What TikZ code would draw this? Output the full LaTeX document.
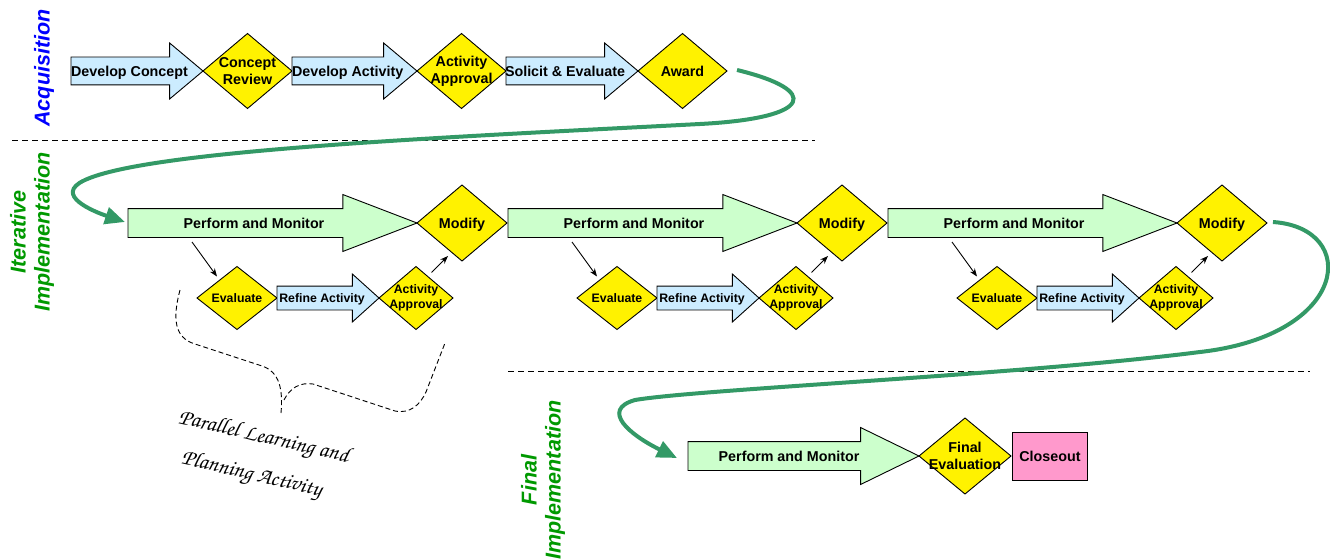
\documentclass[tikz,border=0pt]{standalone}
\usepackage{fontspec}
\setsansfont{Liberation Sans}
\newfontfamily\handfont{texgyrechorus-mediumitalic.otf}
\usetikzlibrary{shapes.geometric,shapes.arrows,arrows.meta,calc}

\definecolor{acqblue}{RGB}{0,0,255}
\definecolor{impgreen}{RGB}{0,153,0}
\definecolor{loopgreen}{RGB}{51,153,102}
\definecolor{stepblue}{RGB}{204,236,255}
\definecolor{stepgreen}{RGB}{204,255,204}
\definecolor{closepink}{RGB}{255,153,204}

\tikzstyle{acqstep} = [single arrow, draw=black, fill=stepblue, line width=0.9pt,
    inner xsep=0pt, inner ysep=13.5pt, outer sep=0pt, minimum width=0pt,
    single arrow head extend=14pt, single arrow tip angle=80, anchor=tail]
\tikzstyle{perfstep} = [single arrow, draw=black, fill=stepgreen, line width=0.9pt,
    inner xsep=0pt, inner ysep=14pt, outer sep=0pt, minimum width=0pt, minimum height=289pt,
    single arrow head extend=14pt, single arrow tip angle=42, anchor=tail]
\tikzstyle{refinestep} = [single arrow, draw=black, fill=stepblue, line width=0.9pt,
    inner xsep=0pt, inner ysep=11.5pt, outer sep=0pt, minimum width=0pt, minimum height=102pt,
    single arrow head extend=12pt, single arrow tip angle=84, anchor=tail]
\tikzstyle{gate} = [diamond, draw=black, fill=yellow, line width=0.9pt,
    inner sep=0pt, outer sep=0pt, anchor=west]
\tikzstyle{bigtext} = [font=\sffamily\bfseries\fontsize{14.3}{17}\selectfont, inner sep=0pt, align=center]
\tikzstyle{smalltext} = [font=\sffamily\bfseries\fontsize{12.3}{14.7}\selectfont, inner sep=0pt, align=center]
\tikzstyle{steplabel} = [bigtext, text height=10.2pt, text depth=0pt]
\tikzstyle{smallsteplabel} = [smalltext, text height=8.8pt, text depth=0pt]
\tikzstyle{sidelabel} = [rotate=90, align=center, inner sep=0pt,
    font=\sffamily\bfseries\itshape\fontsize{21.5}{24}\selectfont]
\tikzstyle{scribble} = [font=\handfont\fontsize{22.5}{39}\selectfont, align=left, inner sep=0pt]
\tikzstyle{sepline} = [dash pattern=on 6pt off 4pt, line width=0.9pt]
\tikzstyle{loopback} = [draw=loopgreen, line width=4pt, -{Triangle[length=20pt,width=17pt]}]
\tikzstyle{flow} = [-{Stealth[length=8pt,width=6pt]}, line width=0.9pt]

\begin{document}
\begin{tikzpicture}[x=1pt, y=-1pt]
    \useasboundingbox (0,0) rectangle (1330,559);

    % side titles and separators
    \node[sidelabel, text=acqblue] (acq) at (44,68) {Acquisition};
    \node[sidelabel, text=impgreen] (iter) at (32,232) {Iterative\\Implementation};
    \node[sidelabel, text=impgreen] (fin) at (543,480) {Final\\Implementation};
    \draw[sepline] (12,140) -- (815,140);
    \draw[sepline] (508,371) -- (1310,371);

    % acquisition
    \node[acqstep, minimum height=132pt] (dc) at (71,71) {};
    \node[steplabel] (dct) at ([xshift=58.5pt]dc.tail) {Develop Concept};
    \node[gate, minimum width=89pt, minimum height=75pt,
        label={[bigtext]center:Concept\\Review}] (cr) at (dc.tip) {};
    \node[acqstep, minimum height=125pt] (da) at (cr.east) {};
    \node[steplabel] (dat) at ([xshift=55.7pt]da.tail) {Develop Activity};
    \node[gate, minimum width=89pt, minimum height=75pt,
        label={[bigtext]center:Activity\\Approval}] (aa) at (da.tip) {};
    \node[acqstep, minimum height=132pt] (se) at (aa.east) {};
    \node[steplabel] (set) at ([xshift=59pt]se.tail) {Solicit \& Evaluate};
    \node[gate, minimum width=89pt, minimum height=75pt,
        label={[steplabel]center:Award}] (aw) at (se.tip) {};

    % iterative implementation
    \foreach \i/\x in {1/128, 2/508, 3/888} {
        \node[perfstep] (pm\i) at (\x,223) {};
        \node[steplabel] (pmt\i) at ([xshift=126pt]pm\i.tail) {Perform and Monitor};
        \node[gate, minimum width=90pt, minimum height=76pt,
            label={[steplabel]center:Modify}] (md\i) at (pm\i.tip) {};
        \node[gate, anchor=center, minimum width=80pt, minimum height=63pt,
            label={[smallsteplabel]center:Evaluate}] (ev\i) at ([xshift=109pt, yshift=-75pt]pm\i.tail) {};
        \node[refinestep] (rf\i) at (ev\i.east) {};
        \node[smallsteplabel] (rft\i) at ([xshift=45pt]rf\i.tail) {Refine Activity};
        \node[gate, minimum width=74pt, minimum height=63pt,
            label={[smalltext]center:Activity\\Approval}] (ap\i) at (rf\i.tip) {};
        \draw[flow] ($(pm\i.tail)+(64,19)$) -- ($(ev\i.north)+(-20,10)$);
        \draw[flow] ($(ap\i.north)+(15.5,6)$) -- ($(md\i.south)+(-14,-5)$);
    }

    % final implementation
    \node[perfstep, minimum height=231pt, single arrow tip angle=52] (pmf) at (688,456) {};
    \node[steplabel] (pmft) at ([xshift=101pt]pmf.tail) {Perform and Monitor};
    \node[gate, minimum width=92pt, minimum height=76pt,
        label={[bigtext]center:Final\\Evaluation}] (fe) at (pmf.tip) {};
    \node[steplabel, draw=black, fill=closepink, line width=0.9pt, anchor=west,
        minimum width=75pt, minimum height=48pt] (co) at ([xshift=1pt]fe.east) {Closeout};

    % hand-offs between phases
    \draw[loopback] ($(aw.east)+(10,-1)$) .. controls (820,90) and (815,118) .. (700,124)
        .. controls (450,137) and (150,150) .. (85,180)
        .. controls (52,195) and (95,212) .. ($(pm1.tail)+(-3,-1)$);
    \draw[loopback] ($(md3.east)+(6,-1)$) .. controls (1360,228) and (1350,335) .. (1200,352)
        .. controls (1020,375) and (700,389) .. (635,400)
        .. controls (600,410) and (630,435) .. ($(pmf.tail)+(-11,2)$);

    % parallel activity brace
    \draw[dash pattern=on 5pt off 3pt, line width=0.9pt]
        (180,290) .. controls (172,320) and (175,338) .. (195,344) -- (262,366)
        .. controls (280,372) and (283,390) .. (281,413);
    \draw[dash pattern=on 5pt off 3pt, line width=0.9pt]
        (284,400) .. controls (290,388) and (300,382) .. (313,384) -- (395,411)
        .. controls (410,414) and (420,405) .. (426,392) -- (445,343);
    \node[scribble, rotate=-13] (parallel) at (259,457) {Parallel Learning and\\\hspace*{12pt}Planning Activity};
\end{tikzpicture}
\end{document}
